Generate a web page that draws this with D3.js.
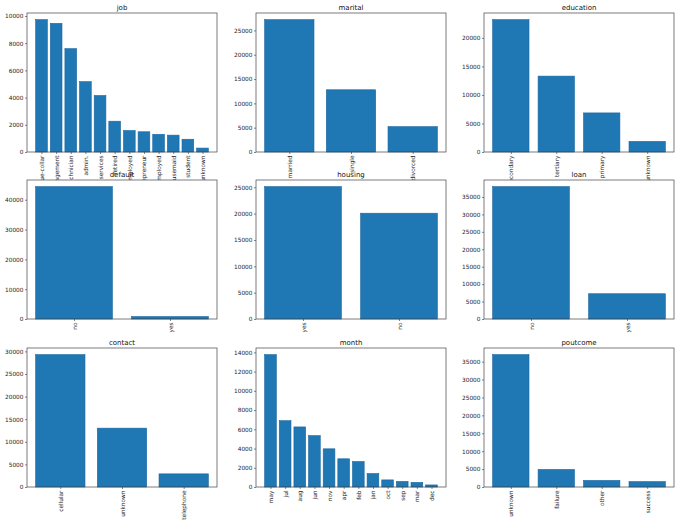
<!DOCTYPE html>
<html><head><meta charset="utf-8">
<script src="https://cdn.jsdelivr.net/npm/d3@7"></script>
<style>body{margin:0;background:#fff} text{font-family:"DejaVu Sans",sans-serif}</style>
</head><body>
<script>
// ---- data ----
const jobCats = ["blue-collar","management","technician","admin.","services","retired","self-employed","entrepreneur","unemployed","housemaid","student","unknown"];
const jobVals = [9732,9458,7597,5171,4154,2264,1579,1487,1303,1240,938,288];
const maritalCats = ["married","single","divorced"];
const maritalVals = [27214,12790,5207];
const educationCats = ["secondary","tertiary","primary","unknown"];
const educationVals = [23202,13301,6851,1857];
const defaultCats = ["no","yes"];
const defaultVals = [44396,815];
const housingCats = ["yes","no"];
const housingVals = [25130,20081];
const loanCats = ["no","yes"];
const loanVals = [37967,7244];
const contactCats = ["cellular","unknown","telephone"];
const contactVals = [29285,13020,2906];
const monthCats = ["may","jul","aug","jun","nov","apr","feb","jan","oct","sep","mar","dec"];
const monthVals = [13766,6895,6247,5341,3970,2932,2649,1403,738,579,477,214];
const poutcomeCats = ["unknown","failure","other","success"];
const poutcomeVals = [36959,4901,1840,1511];

const jobTicks = [0,2000,4000,6000,8000,10000];
const maritalTicks = [0,5000,10000,15000,20000,25000];
const educationTicks = [0,5000,10000,15000,20000];
const defaultTicks = [0,10000,20000,30000,40000];
const housingTicks = [0,5000,10000,15000,20000,25000];
const loanTicks = [0,5000,10000,15000,20000,25000,30000,35000];
const contactTicks = [0,5000,10000,15000,20000,25000,30000];
const monthTicks = [0,2000,4000,6000,8000,10000,12000,14000];
const poutcomeTicks = [0,5000,10000,15000,20000,25000,30000,35000];

const panels = [
  {title:"job", cats:jobCats, vals:jobVals, ticks:jobTicks},
  {title:"marital", cats:maritalCats, vals:maritalVals, ticks:maritalTicks},
  {title:"education", cats:educationCats, vals:educationVals, ticks:educationTicks},
  {title:"default", cats:defaultCats, vals:defaultVals, ticks:defaultTicks},
  {title:"housing", cats:housingCats, vals:housingVals, ticks:housingTicks},
  {title:"loan", cats:loanCats, vals:loanVals, ticks:loanTicks},
  {title:"contact", cats:contactCats, vals:contactVals, ticks:contactTicks},
  {title:"month", cats:monthCats, vals:monthVals, ticks:monthTicks},
  {title:"poutcome", cats:poutcomeCats, vals:poutcomeVals, ticks:poutcomeTicks}
];

// ---- layout ----
const W = 679, H = 524;
const colX = [27, 256, 484], rowY = [13, 180, 348];
const aw = 190, ah = 139;
const tickFont = 5.8, titleFont = 7;

const svg = d3.select("body").append("svg").attr("width", W).attr("height", H);

panels.forEach((p, i) => {
  const x0 = colX[i % 3], y0 = rowY[Math.floor(i / 3)];
  const g = svg.append("g").attr("transform", `translate(${x0},${y0})`);
  g.append("rect").attr("width", aw).attr("height", ah).attr("fill", "#fff");

  const n = p.cats.length;
  const lo = -0.4, hi = n - 1 + 0.4, m = 0.05 * (hi - lo);
  const x = d3.scaleLinear().domain([lo - m, hi + m]).range([0, aw]);
  const ymax = d3.max(p.vals) * 1.05;
  const y = d3.scaleLinear().domain([0, ymax]).range([ah, 0]);

  g.selectAll("rect.bar").data(p.vals).join("rect").attr("class", "bar")
    .attr("x", (d, j) => x(j - 0.4))
    .attr("width", (d, j) => x(j + 0.4) - x(j - 0.4))
    .attr("y", d => y(d))
    .attr("height", d => ah - y(d))
    .attr("fill", "#1f77b4")
    .attr("stroke", "#1a67a0").attr("stroke-width", 0.6);

  // y axis
  const ya = g.append("g").call(d3.axisLeft(y).tickValues(p.ticks).tickSize(2).tickPadding(1.5).tickFormat(d3.format("d")));
  ya.select(".domain").remove();
  ya.selectAll("line").attr("stroke", "#333").attr("stroke-width", 0.6);
  ya.selectAll("text").attr("font-size", tickFont).attr("fill", "#222").attr("font-family", "DejaVu Sans");

  // x axis
  const xa = g.append("g").attr("transform", `translate(0,${ah})`)
    .call(d3.axisBottom(x).tickValues(d3.range(n)).tickSize(2).tickFormat(j => p.cats[j]));
  xa.select(".domain").remove();
  xa.selectAll("line").attr("stroke", "#333").attr("stroke-width", 0.6);
  xa.selectAll("text")
    .attr("transform", "rotate(-90)")
    .attr("text-anchor", "end")
    .attr("x", -3.5).attr("y", 0).attr("dy", "0.35em")
    .attr("font-size", tickFont).attr("fill", "#222").attr("font-family", "DejaVu Sans");

  // spines
  g.append("rect").attr("width", aw).attr("height", ah)
    .attr("fill", "none").attr("stroke", "#444").attr("stroke-width", 0.7);

  // title
  g.append("text").attr("x", aw / 2).attr("y", -3.5)
    .attr("text-anchor", "middle").attr("font-size", titleFont).attr("fill", "#111")
    .text(p.title);
});
</script>
</body></html>
